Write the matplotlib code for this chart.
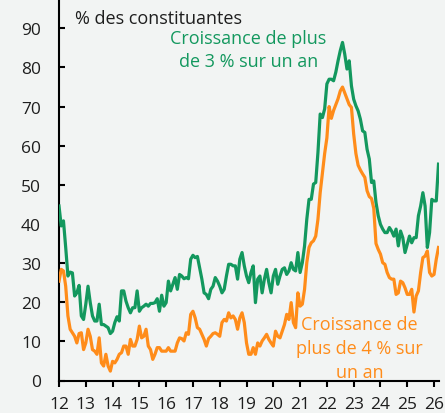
import numpy as np
import matplotlib
matplotlib.use("Agg")
import matplotlib.pyplot as plt

# Monthly data, Jan 2012 onwards (% of constituents)
green_3pct = [
    44.6, 39.5, 40.8, 34.0, 26.7, 27.7, 27.5, 21.6, 22.4, 24.3, 16.5, 15.6,
    19.5, 24.1, 19.9, 16.5, 15.2, 15.2, 19.5, 14.3, 14.3, 13.9, 13.5, 12.0,
    12.6, 14.8, 16.3, 15.2, 22.9, 22.9, 20.3, 18.6, 17.3, 18.6, 18.6, 22.9,
    17.7, 18.6, 19.0, 19.5, 19.0, 19.7, 19.7, 19.9, 20.9, 17.7, 21.8, 19.0,
    19.9, 25.4, 22.9, 24.6, 26.3, 23.3, 27.1, 26.7, 26.0, 26.3, 26.0, 31.0,
    32.0, 31.4, 31.7, 28.8, 25.9, 22.4, 22.0, 20.9, 23.3, 24.1, 26.3, 25.4,
    24.1,
    22.4, 23.3, 26.7, 29.7, 29.7, 29.3, 29.3, 25.9, 31.0, 32.7, 29.3, 26.7,
    25.0, 27.6, 29.3, 19.9, 25.9, 26.7, 22.4, 25.9, 28.4, 25.0, 22.4, 26.7,
    28.4, 24.6, 26.7, 28.4, 28.8, 27.1, 28.0, 30.1, 28.4, 28.0, 32.7, 27.6,
    30.1, 34.4, 41.2, 46.3, 46.3, 50.2, 50.6, 58.3, 68.1, 67.2, 69.4, 75.8,
    77.0, 77.0, 76.6, 78.8, 81.7, 84.3, 86.4, 83.4, 79.6, 81.7, 75.3, 71.9,
    70.2, 68.9, 66.8, 63.8, 63.4, 59.1, 56.6, 50.6, 51.0, 45.5, 42.1, 39.9,
    38.7, 37.8, 37.8, 39.1, 38.2, 36.9, 38.7, 34.4, 38.2, 36.5, 32.7, 34.8,
    36.9, 35.2, 36.5, 36.5, 42.1, 44.6, 48.0, 44.6, 34.0, 37.8, 46.3, 45.9,
    45.9, 55.3,
]
orange_4pct = [
    25.4, 28.4, 28.0, 24.1, 16.5, 13.1, 12.2, 11.3, 9.6, 12.0, 12.2, 7.9,
    9.6, 13.1, 11.3, 7.9, 7.5, 6.7, 10.9, 4.5, 3.7, 6.7, 3.7, 2.4,
    4.9, 4.5, 5.4, 6.7, 7.1, 8.8, 8.8, 6.7, 10.5, 8.8, 8.8, 10.5,
    13.9, 10.9, 11.3, 13.1, 8.8, 7.9, 5.4, 6.7, 8.4, 8.4, 7.5, 7.5,
    7.5, 8.4, 7.5, 7.5, 7.5, 9.6, 10.9, 10.7, 10.1, 12.2, 11.8, 16.9,
    17.7, 16.0, 13.5, 13.1, 11.8, 10.5, 8.8, 10.7, 11.3, 12.0, 12.2, 11.8,
    11.3,
    14.8, 15.6, 15.2, 17.3, 16.0, 16.5, 15.6, 13.1, 16.0, 17.3, 14.8, 9.6,
    6.7, 6.7, 8.4, 6.7, 9.6, 8.8, 10.1, 10.9, 11.8, 10.5, 9.6, 8.8,
    12.6, 11.3, 10.9, 12.6, 14.3, 16.9, 15.6, 19.9, 14.8, 13.5, 22.4, 19.0,
    19.5, 23.3, 30.1, 34.0, 35.2, 35.7, 36.9, 41.2, 48.0, 53.0, 58.0, 62.0,
    70.0, 67.0, 69.0, 70.5, 72.0, 74.0, 75.0, 73.5, 72.0, 70.5, 69.8, 63.0,
    58.0, 55.0, 53.8, 52.8, 51.9, 48.5, 47.0, 46.5, 44.0, 35.0, 33.5, 32.3,
    30.1, 29.7, 27.6, 26.3, 25.9, 25.9, 22.0, 22.4, 25.4, 25.0, 23.7, 22.0,
    22.0, 23.3, 17.5, 21.6, 22.9, 27.6, 31.4, 31.8, 33.1, 27.6, 26.7, 27.1,
    31.0, 34.0,
]
start_year = 12  # 2012, shown as two-digit year
x_ticks = list(range(12, 27))
x_tick_labels = [str(v) for v in x_ticks]
y_ticks = list(range(0, 100, 10))

GREEN = "#13985E"
ORANGE = "#FF8C1A"
BG = "#F2F4F3"
TXT = "#1E1E1E"

plt.rcParams['font.family'] = ['Open Sans', 'DejaVu Sans']

t_green = start_year + np.arange(len(green_3pct)) / 12
t_orange = start_year + np.arange(len(orange_4pct)) / 12

fig = plt.figure(figsize=(4.45, 4.14), dpi=100, facecolor=BG)
ax = fig.add_axes([59 / 445, 1 - 381.5 / 414, 379.5 / 445, 381.5 / 414])
ax.set_facecolor(BG)

ax.plot(t_green, green_3pct, color=GREEN, lw=2.3, solid_joinstyle='round', zorder=3)
ax.plot(t_orange, orange_4pct, color=ORANGE, lw=2.3, solid_joinstyle='round', zorder=3)

ax.set_xlim(12, 12 + 170 / 12)
ax.set_ylim(0, 97.5)
ax.set_xticks(x_ticks)
ax.set_xticklabels(x_tick_labels)
ax.set_yticks(y_ticks)

for s in ['top', 'right']:
    ax.spines[s].set_visible(False)
for s in ['left', 'bottom']:
    ax.spines[s].set_linewidth(1.5)
    ax.spines[s].set_color('black')

ax.tick_params(axis='y', direction='in', length=4, width=1.5, pad=13,
               labelsize=12.5, labelcolor=TXT)
ax.tick_params(axis='x', direction='out', length=4, width=1.5, pad=7,
               labelsize=12.5, labelcolor=TXT)

fig.text(75 / 445, 1 - 18.5 / 414, "% des constituantes", ha='left', va='center',
         fontsize=13, color=TXT)
fig.text(248.5 / 445, 1 - 50.5 / 414, "Croissance de plus\nde 3 % sur un an",
         ha='center', va='center', fontsize=13, color=GREEN, linespacing=1.4)
fig.text(359.5 / 445, 1 - 349 / 414, "Croissance de\nplus de 4 % sur\nun an",
         ha='center', va='center', fontsize=13, color=ORANGE, linespacing=1.4)

fig.savefig("out.png", dpi=100, facecolor=BG)
